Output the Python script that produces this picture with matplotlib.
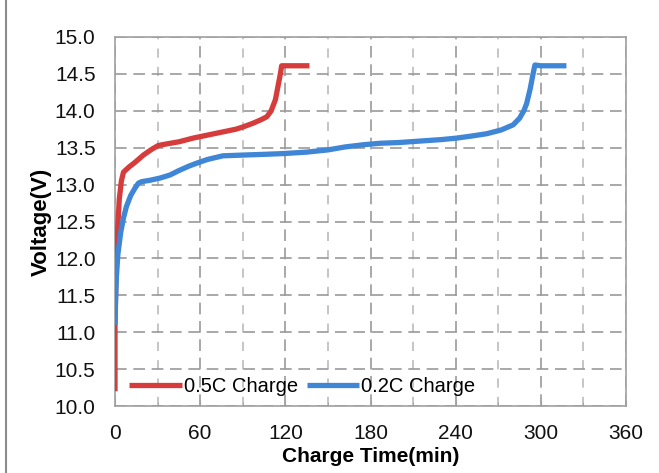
import matplotlib
matplotlib.use("Agg")
import matplotlib.pyplot as plt
from matplotlib.patches import Rectangle

plt.rcParams['font.family'] = ['Liberation Sans', 'DejaVu Sans']

# 0.5C charge
t_05 = [0, 0, 0.5, 1, 2, 3, 4.5, 6, 7.7, 10, 14, 20, 26, 30.5, 36, 45, 55, 65, 75, 85, 90, 97, 103, 107, 110, 113, 115, 116.5, 117.4, 120, 130, 137]
v_05 = [10.2, 11.1, 11.6, 12.0, 12.45, 12.8, 13.05, 13.17, 13.2, 13.24, 13.3, 13.4, 13.48, 13.53, 13.55, 13.58, 13.63, 13.67, 13.71, 13.75, 13.78, 13.83, 13.88, 13.92, 14.0, 14.15, 14.35, 14.5, 14.61, 14.61, 14.61, 14.61]

# 0.2C charge
t_02 = [0, 0.5, 1, 2, 4, 6, 8, 11, 14, 16.5, 18.8, 25, 32, 38.7, 45, 52, 57.5, 65, 76, 90, 105, 118, 135, 150, 162, 175, 186.6, 200, 215, 230, 240.6, 252, 262, 272, 280.5, 285, 288, 290, 292.5, 294.5, 295.8, 300, 310, 318]
v_02 = [11.1, 11.5, 11.75, 12.05, 12.35, 12.55, 12.7, 12.85, 12.95, 13.02, 13.04, 13.06, 13.09, 13.13, 13.19, 13.25, 13.29, 13.34, 13.39, 13.4, 13.41, 13.42, 13.44, 13.47, 13.51, 13.54, 13.56, 13.57, 13.59, 13.61, 13.63, 13.66, 13.69, 13.74, 13.81, 13.9, 14.0, 14.1, 14.3, 14.5, 14.62, 14.61, 14.61, 14.61]

x_ticks = [0, 60, 120, 180, 240, 300, 360]
y_ticks = [10.0, 10.5, 11.0, 11.5, 12.0, 12.5, 13.0, 13.5, 14.0, 14.5, 15.0]

fig = plt.figure(figsize=(6.59, 4.73), dpi=100)
ax = fig.add_axes([0.1745, 0.1416, 0.7755, 0.7802])

red = '#D63C3C'
blue = '#3F87D6'
ax.plot(t_05, v_05, color=red, lw=3.8, label='0.5C Charge', solid_capstyle='butt', zorder=3)
ax.plot(t_02, v_02, color=blue, lw=3.8, label='0.2C Charge', solid_capstyle='butt', zorder=3)

ax.set_xlim(0, 360)
ax.set_ylim(10.0, 15.0)
ax.set_xticks(x_ticks)
ax.set_xticks(range(30, 360, 60), minor=True)
ax.set_yticks(y_ticks)
ax.set_yticklabels([f'{v:.1f}' for v in y_ticks])

ax.grid(True, which='major', color='#9a9a9a', linestyle=(0, (7, 4)), linewidth=1.2)
ax.grid(True, which='minor', axis='x', color='#b5b5b5', linestyle=(0, (6, 6)), linewidth=1.1)
ax.set_axisbelow(True)

for s in ax.spines.values():
    s.set_color('#a0a0a0')
    s.set_linewidth(1.2)

ax.tick_params(axis='both', which='major', labelsize=15, length=4, color='#a0a0a0', direction='in', pad=13, labelcolor='#111111')
ax.tick_params(axis='both', which='minor', length=3, color='#a0a0a0', direction='in')
ax.tick_params(axis='y', length=0, pad=14)

ax.set_xlabel('Charge Time(min)', fontsize=15, fontweight='bold', labelpad=3)
ax.set_ylabel('Voltage(V)', fontsize=16, fontweight='bold', labelpad=2)

leg = ax.legend(loc='lower left', ncol=2, frameon=False, fontsize=14.5, handlelength=2.6,
                handletextpad=0.1, columnspacing=0.45, borderaxespad=0.0,
                bbox_to_anchor=(0.012, 0.005))

fig.patches.append(Rectangle((0.009, -0.05), 1.2, 1.2, transform=fig.transFigure,
                             fill=False, edgecolor='#8c8c8c', linewidth=1.5))

fig.savefig('out.png', dpi=100)
